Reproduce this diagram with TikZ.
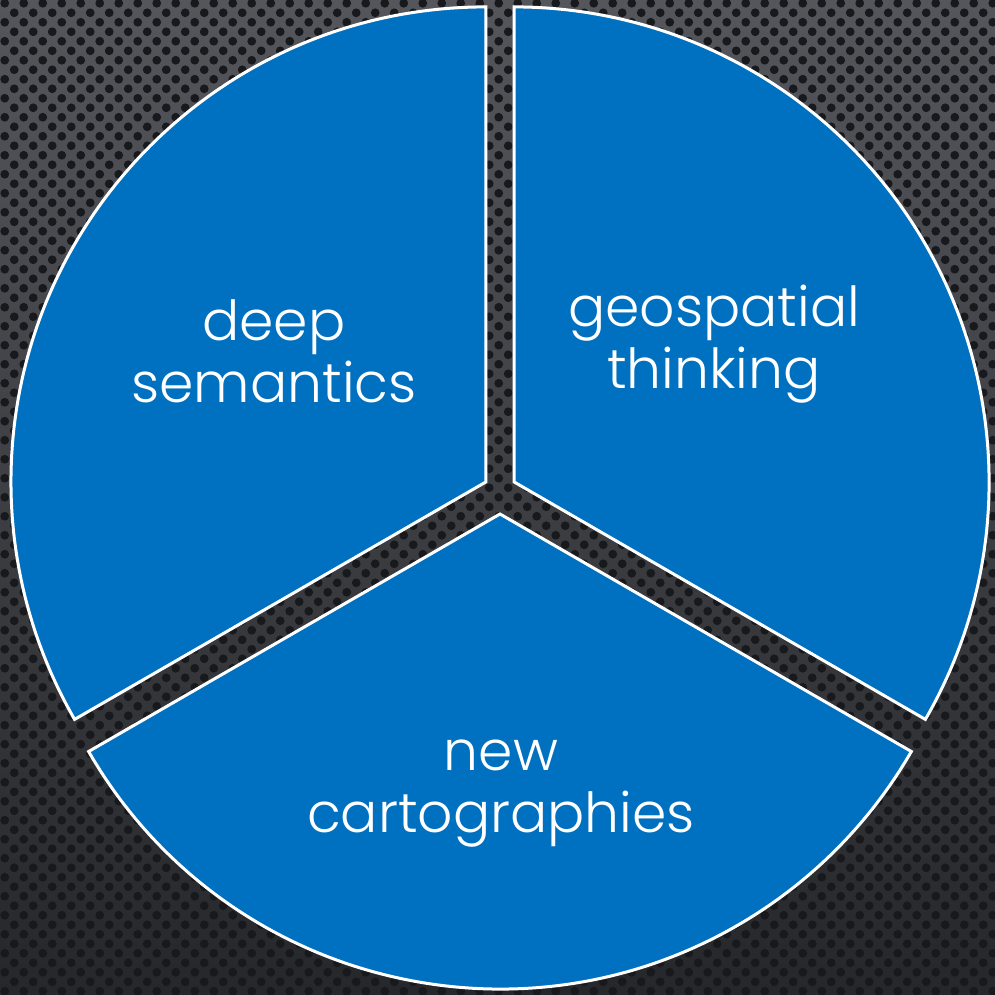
\documentclass[tikz,border=0pt]{standalone}
\usepackage{fontspec}
\setmainfont{Poppins Light}
\usetikzlibrary{patterns}
\definecolor{pieblue}{HTML}{0070C0}
\definecolor{bgtop}{RGB}{84,86,92}
\definecolor{bgbottom}{RGB}{38,39,42}
\definecolor{bgdot}{RGB}{24,25,28}
% dotted backdrop
\pgfdeclarepatternformonly{pebbles}{\pgfqpoint{0pt}{0pt}}{\pgfqpoint{5.4pt}{5.4pt}}{\pgfqpoint{5.4pt}{5.4pt}}{%
  \pgfpathcircle{\pgfqpoint{1.35pt}{1.35pt}}{1.25pt}%
  \pgfpathcircle{\pgfqpoint{4.05pt}{4.05pt}}{1.25pt}%
  \pgfusepath{fill}}

\begin{document}
\begin{tikzpicture}[
  slice/.style={fill=pieblue,draw=white,line width=0.03cm,line join=miter},
  pietext/.style={text=white,align=center,anchor=base,font=\fontsize{15.7pt}{17.4pt}\selectfont}]
\useasboundingbox (-5.00,-5.05) rectangle (4.95,4.90);
\shade[top color=bgtop,bottom color=bgbottom] (-5.00,-5.05) rectangle (4.95,4.90);
\fill[pattern=pebbles,pattern color=bgdot] (-5.00,-5.05) rectangle (4.95,4.90);

\draw[slice,shift={(150:0.162)}] (0,0) -- (90:4.75) arc[start angle=90,end angle=210,radius=4.75] -- cycle;
\draw[slice,shift={(30:0.162)}] (0,0) -- (-30:4.75) arc[start angle=-30,end angle=90,radius=4.75] -- cycle;
\draw[slice,shift={(270:0.24)}] (0,0) -- (210:4.75) arc[start angle=210,end angle=330,radius=4.75] -- cycle;

\node[pietext] (deep) at (-2.26,0.88) {deep\\semantics};
\node[pietext] (geo) at (2.14,1.02) {geospatial\\thinking};
\node[pietext] (carto) at (0.01,-3.42) {new\\cartographies};
\end{tikzpicture}
\end{document}
